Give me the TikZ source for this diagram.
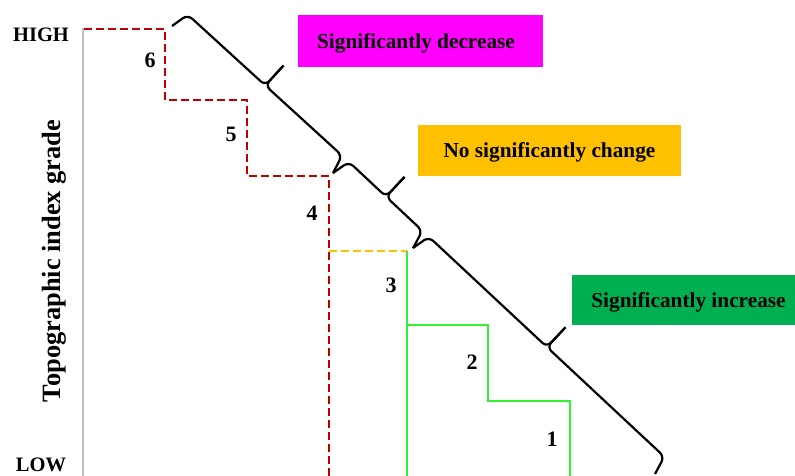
\documentclass[tikz,border=0pt]{standalone}
\usepackage{fontspec}
\setmainfont{Liberation Serif}
\usetikzlibrary{calc}
\definecolor{stepred}{RGB}{192,0,0}
\definecolor{steporange}{RGB}{255,192,0}
\definecolor{stepgreen}{RGB}{51,240,51}
\definecolor{boxmagenta}{RGB}{255,0,255}
\definecolor{boxorange}{RGB}{255,192,0}
\definecolor{boxgreen}{RGB}{0,176,80}
\definecolor{axisgray}{RGB}{191,191,191}
\newcommand\stepbrace[3]{%
  \begin{scope}[shift={#1}, rotate=#2, x=1pt, y=1pt]
    \draw[bracepath] (0,0) -- (4,19) -- ({#3/2},19) -- ({#3/2},46);
    \draw[bracepath] (#3,0) -- ({#3-5},19) -- ({#3/2},19) -- ({#3/2},46);
  \end{scope}}
\begin{document}
\begin{tikzpicture}[x=1pt,y=-1pt,
  redstep/.style={draw=stepred, line width=2.4pt, dash pattern=on 8pt off 4pt},
  orangestep/.style={draw=steporange, line width=2.4pt, dash pattern=on 8pt off 4pt},
  greenstep/.style={draw=stepgreen, line width=2.2pt},
  axisline/.style={draw=axisgray, line width=2.5pt},
  catbox/.style={rectangle, inner sep=0pt, font=\bfseries\fontsize{21.3}{25}\selectfont, text height=17pt, text depth=3pt},
  grade/.style={font=\bfseries\fontsize{22}{25}\selectfont, inner sep=0pt},
  levellabel/.style={font=\bfseries\fontsize{20.5}{24}\selectfont, inner sep=0pt},
  axislabel/.style={font=\bfseries\fontsize{26.4}{30}\selectfont, inner sep=0pt},
  bracepath/.style={draw=black, line width=2.2pt, rounded corners=6pt, line join=round}]
\useasboundingbox (0,0) rectangle (795,475);

% category boxes
\node[catbox, fill=boxmagenta, minimum width=245pt, minimum height=52pt] (dec) at (420.5,41) {\hspace*{-9pt}Significantly decrease};
\node[catbox, fill=boxorange, minimum width=263pt, minimum height=51pt] (noc) at (549.5,150.5) {No significantly change};
\node[catbox, fill=boxgreen, minimum width=223pt, minimum height=50pt] (inc) at (683.5,300) {\hspace*{10pt}Significantly increase};

% axis
\coordinate (axtop) at (83,28);
\coordinate (axbot) at (83,476);
\draw[axisline] (axtop) -- (axbot);
\node[levellabel] (high) at (41,35) {HIGH};
\node[levellabel] (low) at (41,464.5) {LOW};
\node[axislabel, rotate=90, anchor=base] (ylab) at (60,261) {Topographic index grade};

% staircases
\draw[redstep] (84,29) -- (165,29) -- (165,100) -- (247,100) -- (247,176) -- (329,176) -- (329,476);
\draw[orangestep] (329,251) -- (407,251);
\draw[greenstep] (407,251) -- (407,476);
\draw[greenstep] (407,325) -- (488,325) -- (488,401) -- (570,401) -- (570,476);

% grade numbers
\node[grade] (g6) at (150,60) {6};
\node[grade] (g5) at (231,134) {5};
\node[grade] (g4) at (312,213) {4};
\node[grade] (g3) at (391,285) {3};
\node[grade] (g2) at (472,362) {2};
\node[grade] (g1) at (552,439) {1};

% braces along the diagonal
\coordinate (p0) at (172,26);
\coordinate (p1) at (333,173);
\coordinate (p2) at (413,248);
\stepbrace{(p0)}{-42.4}{218}
\stepbrace{(p1)}{-43.15}{109.7}
\stepbrace{(p2)}{-43.04}{331.1}
\end{tikzpicture}
\end{document}
